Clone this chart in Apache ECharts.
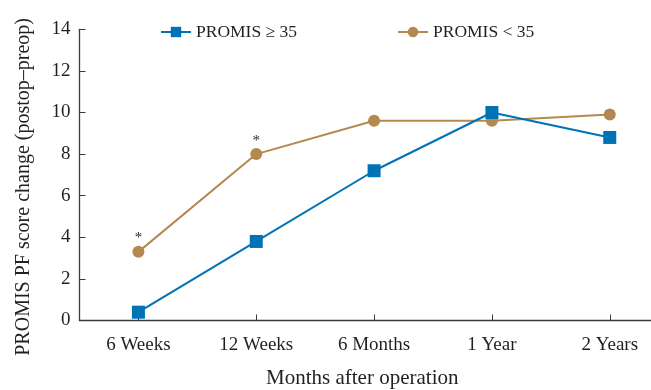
<!DOCTYPE html>
<html>
<head>
<meta charset="utf-8">
<script src="https://cdn.jsdelivr.net/npm/echarts@6/dist/echarts.min.js"></script>
<style>
  html, body { margin: 0; padding: 0; background: #fff; }
  #chart { width: 651px; height: 390px; }
</style>
</head>
<body>
<div id="chart"></div>
<script>
// Time points after surgery
const categories = ['6 Weeks', '12 Weeks', '6 Months', '1 Year', '2 Years'];
// Mean PROMIS PF change (postop - preop) per group
const highGroup = [0.4, 3.8, 7.2, 10.0, 8.8];   // PROMIS >= 35
const lowGroup = [3.3, 8.0, 9.6, 9.6, 9.9];     // PROMIS < 35
// Significance markers shown above the PROMIS < 35 points
const sigMarks = ['*', '*', '', '', ''];
const yTicks = { min: 0, max: 14, interval: 2 };

const serif = '"Liberation Serif", "DejaVu Serif", serif';
const axisColor = '#3a3a3a';
const textColor = '#231f20';

// time points sit at integer positions on the x axis
const positions = categories.map((_, i) => i);
const toPairs = (vals) => vals.map((v, i) => [positions[i], v]);

const chart = echarts.init(document.getElementById('chart'));
chart.setOption({
  animation: false,
  textStyle: { fontFamily: serif },
  legend: {
    top: 18,
    left: 155,
    itemGap: 100,
    itemWidth: 30,
    itemHeight: 13,
    textStyle: { fontFamily: serif, fontSize: 17.5, color: textColor },
    data: ['PROMIS \u2265 35', 'PROMIS < 35']
  },
  // fixed plot rectangle; labels and names are placed outside it as given
  grid: {
    left: 79.5, right: 0, top: 29.3, bottom: 69.5,
    containLabel: false,
    outerBoundsMode: 'none'
  },
  xAxis: {
    type: 'value',
    // half a step before the first point, the axis runs on to the right edge
    min: -0.5,
    max: 4.35,
    splitLine: { show: false },
    name: 'Months after operation',
    nameLocation: 'middle',
    nameGap: 47,
    nameTextStyle: { fontFamily: serif, fontSize: 21, color: textColor, padding: [0, 0, 0, -6] },
    axisLine: { onZero: false, lineStyle: { color: axisColor, width: 1.3 } },
    axisTick: { show: true, inside: true, length: 6, customValues: positions, lineStyle: { color: axisColor } },
    axisLabel: {
      fontFamily: serif, fontSize: 19, color: textColor, margin: 15,
      customValues: positions,
      formatter: (v) => categories[Math.round(v)] || ''
    }
  },
  yAxis: {
    type: 'value',
    min: yTicks.min,
    max: yTicks.max,
    interval: yTicks.interval,
    name: 'PROMIS PF score change (postop\u2013preop)',
    nameLocation: 'middle',
    nameGap: 46,
    nameTextStyle: { fontFamily: serif, fontSize: 20, color: textColor, padding: [0, 24, 0, 0] },
    splitLine: { show: false },
    axisLine: { show: true, onZero: false, lineStyle: { color: axisColor, width: 1.3 } },
    axisTick: { show: true, inside: true, length: 6, lineStyle: { color: axisColor } },
    axisLabel: { fontFamily: serif, fontSize: 19, color: textColor, margin: 9 }
  },
  series: [
    {
      name: 'PROMIS \u2265 35',
      type: 'line',
      data: toPairs(highGroup),
      symbol: 'rect',
      symbolSize: 13,
      itemStyle: { color: '#0072b6' },
      lineStyle: { color: '#0072b6', width: 2 },
      z: 3
    },
    {
      name: 'PROMIS < 35',
      type: 'line',
      data: toPairs(lowGroup),
      symbol: 'circle',
      symbolSize: 12,
      itemStyle: { color: '#b5884f' },
      lineStyle: { color: '#b5884f', width: 2 },
      label: {
        show: true,
        position: 'top',
        distance: 0,
        fontFamily: serif,
        fontSize: 15,
        color: textColor,
        formatter: (p) => sigMarks[p.dataIndex]
      },
      z: 2
    }
  ]
});
</script>
</body>
</html>
